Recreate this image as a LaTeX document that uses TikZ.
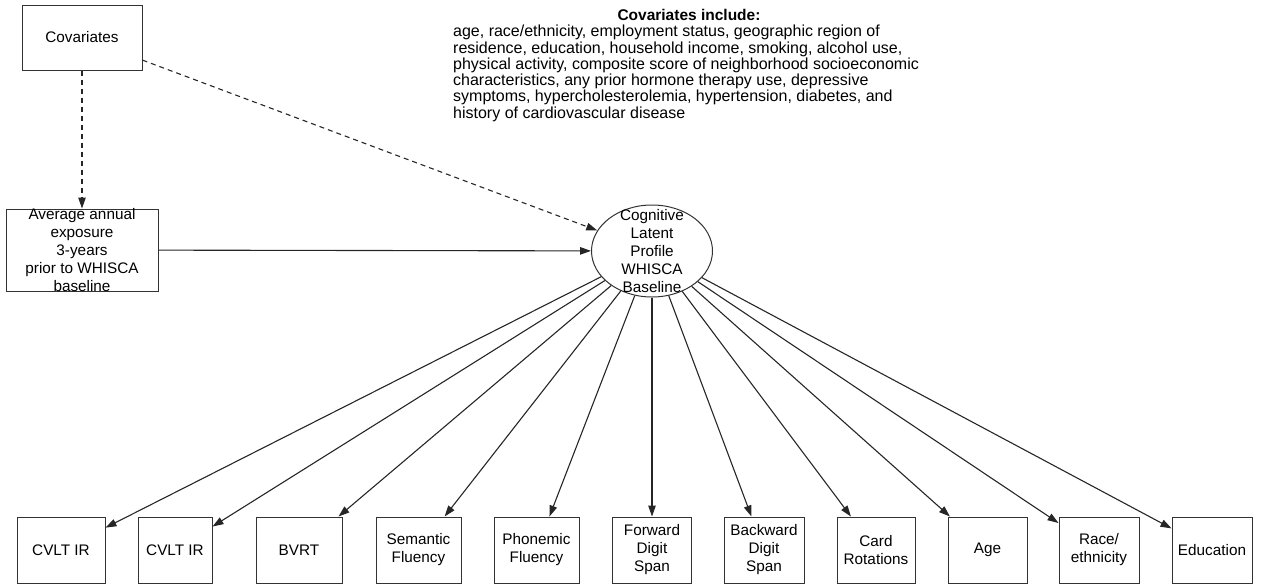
\documentclass[tikz,border=0pt]{standalone}
\usepackage{fontspec}
\setmainfont{Liberation Sans}
\usetikzlibrary{arrows.meta,shapes.geometric}
\tikzset{
  box/.style={draw=black!80, line width=1pt, minimum width=#1, minimum height=66, inner sep=0pt, align=center},
  txt/.style={font=\fontsize{15.3}{18}\selectfont, align=center, inner sep=0pt},
  link/.style={-{Triangle[length=11pt,width=7.5pt]}, line width=1.1pt, black!85},
  dashlink/.style={link, dash pattern=on 5pt off 4pt},
}
\begin{document}
\begin{tikzpicture}[x=1pt, y=-1pt, every node/.style={txt}]
            \useasboundingbox (0,0) rectangle (1262,587);

            \node[box=120, minimum height=65] (cov) at (82,37.5) {Covariates};
            \node[draw=black!80, line width=1pt, minimum width=152, minimum height=82] (avg) at (82,250) {};
            \node (avgtxt) at (avg) {Average annual\\exposure\\3-years\\prior to WHISCA\\baseline};

            \node[draw=black!80, line width=1pt, ellipse, minimum width=121, minimum height=92] (lat) at (652,251) {};
            \node[font=\fontsize{15.3}{17.8}\selectfont] (lattxt) at (652,251) {Cognitive\\Latent\\Profile\\WHISCA\\Baseline};

            \node[font=\bfseries\fontsize{15.5}{17}\selectfont] (inctitle) at (689,15) {Covariates include:};
            \node[anchor=north west, align=left, font=\fontsize{16}{16.3}\selectfont] (inclist) at (453,25) {age, race/ethnicity, employment status, geographic region of\\residence, education, household income, smoking, alcohol use,\\physical activity, composite score of neighborhood socioeconomic\\characteristics, any prior hormone therapy use, depressive\\symptoms, hypercholesterolemia, hypertension, diabetes, and\\history of cardiovascular disease};

            \node[box=88] (cvlta) at (61,550) {CVLT IR};
            \node[box=74] (cvltb) at (175,550) {CVLT IR};
            \node[box=86] (bvrt) at (299,550) {BVRT};
            \node[box=85] (sem) at (418.5,550) {Semantic\\Fluency};
            \node[box=85] (phon) at (536.5,550) {Phonemic\\Fluency};
            \node[box=79] (fwd) at (652,550) {Forward\\Digit\\Span};
            \node[box=80] (bwd) at (764,550) {Backward\\Digit\\Span};
            \node[box=78] (card) at (876,550) {Card\\Rotations};
            \node[box=79] (age) at (987.5,550) {Age};
            \node[box=80] (race) at (1099,550) {Race/\\ethnicity};
            \node[box=80] (edu) at (1212,550) {Education};

            \draw[dashlink] (cov) -- (avg);
            \draw[dashlink] (cov) -- (lat);
            \draw[link] (avg) -- (lat);

            \foreach \b in {cvlta, cvltb, bvrt, sem, phon, fwd, bwd, card, age, race, edu} {
                    \draw[link] (lat) -- (\b);
                }
        \end{tikzpicture}
\end{document}
